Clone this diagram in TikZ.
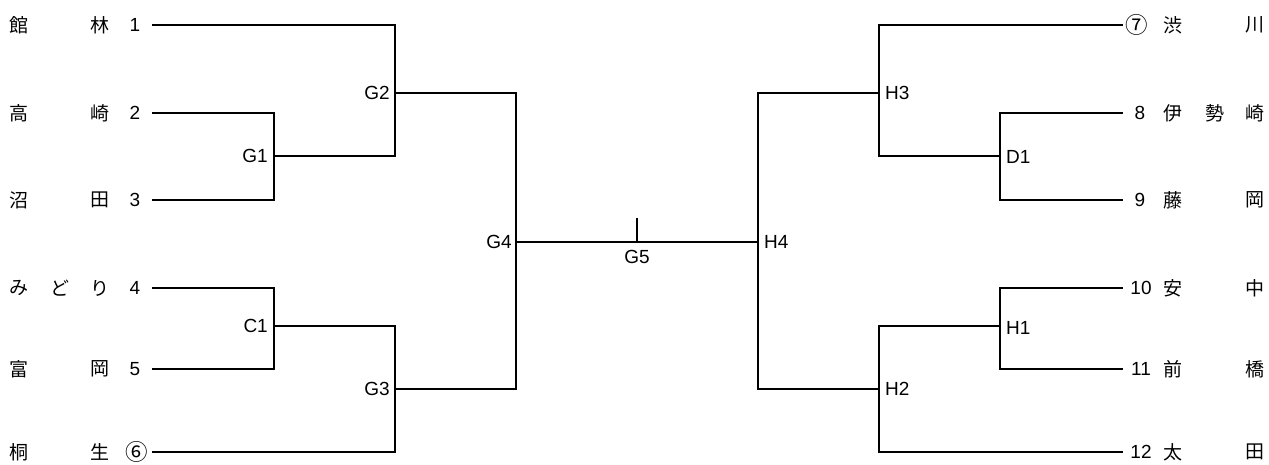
\documentclass[tikz,border=0pt]{standalone}
\usepackage{fontspec}
\setmainfont{Liberation Sans}
\newfontfamily\jp{Noto Sans CJK JP}
\begin{document}
\begin{tikzpicture}[x=1pt,y=-1pt,
  every node/.style={inner sep=0pt,font=\fontsize{19}{22}\selectfont},
  team/.style={font=\jp\fontsize{19}{22}\selectfont},
  circ/.style={font=\jp\fontsize{22.5}{24}\selectfont},
  num/.style={},
  match/.style={},
  wire/.style={line width=2pt,line cap=rect}]
\useasboundingbox (0,0) rectangle (1269,464);
% ---- left teams
\node[team] (l1a) at (19,25) {館};  \node[team] (l1b) at (100,25) {林}; \node[num] (l1n) at (135,25) {1};
\node[team] (l2a) at (19,113) {高}; \node[team] (l2b) at (100,113) {崎}; \node[num] (l2n) at (135,113) {2};
\node[team] (l3a) at (19,200) {沼}; \node[team] (l3b) at (100,200) {田}; \node[num] (l3n) at (135,200) {3};
\node[team] (l4a) at (19,288) {み}; \node[team] (l4c) at (60,288) {ど}; \node[team] (l4b) at (100,288) {り}; \node[num] (l4n) at (135,288) {4};
\node[team] (l5a) at (19,369) {富}; \node[team] (l5b) at (100,369) {岡}; \node[num] (l5n) at (135,369) {5};
\node[team] (l6a) at (19,452) {桐}; \node[team] (l6b) at (100,452) {生}; \node[circ] (l6n) at (137,452) {⑥};
% ---- right teams
\node[circ] (r7n) at (1137,25) {⑦}; \node[team] (r7a) at (1173,25) {渋}; \node[team] (r7b) at (1255,25) {川};
\node[num] (r8n) at (1140,113) {8}; \node[team] (r8a) at (1173,113) {伊}; \node[team] (r8c) at (1215,113) {勢}; \node[team] (r8b) at (1255,113) {崎};
\node[num] (r9n) at (1140,200) {9}; \node[team] (r9a) at (1173,200) {藤}; \node[team] (r9b) at (1255,200) {岡};
\node[num] (r10n) at (1141,288) {10}; \node[team] (r10a) at (1173,288) {安}; \node[team] (r10b) at (1255,288) {中};
\node[num] (r11n) at (1141,369) {11}; \node[team] (r11a) at (1173,369) {前}; \node[team] (r11b) at (1255,369) {橋};
\node[num] (r12n) at (1141,452) {12}; \node[team] (r12a) at (1173,452) {太}; \node[team] (r12b) at (1255,452) {田};
% ---- line ends
\coordinate (e1) at (153,25);  \coordinate (e2) at (153,113); \coordinate (e3) at (153,200);
\coordinate (e4) at (153,288); \coordinate (e5) at (153,369); \coordinate (e6) at (153,452);
\coordinate (e7) at (1122,25);  \coordinate (e8) at (1122,113); \coordinate (e9) at (1122,200);
\coordinate (e10) at (1122,288); \coordinate (e11) at (1122,369); \coordinate (e12) at (1122,452);
% ---- match points
\coordinate (g1) at (274,156); \coordinate (c1) at (274,326);
\coordinate (g2) at (395,93);  \coordinate (g3) at (395,389);
\coordinate (g4) at (516,242); \coordinate (g5) at (637,242); \coordinate (g5t) at (637,219);
\coordinate (h4) at (758,242);
\coordinate (h3) at (879,93);  \coordinate (h2) at (879,389);
\coordinate (d1) at (1000,156); \coordinate (h1) at (1000,326);
% ---- match labels
\node[match,anchor=east] (G1) at (268,156) {G1};
\node[match,anchor=east] (C1) at (268,326) {C1};
\node[match,anchor=east] (G2) at (390,93) {G2};
\node[match,anchor=east] (G3) at (390,389) {G3};
\node[match,anchor=east] (G4) at (512,242) {G4};
\node[match] (G5) at (637,257) {G5};
\node[match,anchor=west] (H4) at (764,242) {H4};
\node[match,anchor=west] (H3) at (885,93) {H3};
\node[match,anchor=west] (H2) at (885,389) {H2};
\node[match,anchor=west] (D1) at (1006,157) {D1};
\node[match,anchor=west] (H1) at (1006,328) {H1};
% ---- wires left
\draw[wire] (e2) -| (g1) |- (e3);
\draw[wire] (e1) -| (g2) |- (g1);
\draw[wire] (e4) -| (c1) |- (e5);
\draw[wire] (c1) -| (g3) |- (e6);
\draw[wire] (g2) -| (g4) |- (g3);
% ---- final
\draw[wire] (g4) -- (h4);
\draw[wire] (g5) -- (g5t);
% ---- wires right
\draw[wire] (e8) -| (d1) |- (e9);
\draw[wire] (e7) -| (h3) |- (d1);
\draw[wire] (e10) -| (h1) |- (e11);
\draw[wire] (h1) -| (h2) |- (e12);
\draw[wire] (h3) -| (h4) |- (h2);
\end{tikzpicture}
\end{document}
